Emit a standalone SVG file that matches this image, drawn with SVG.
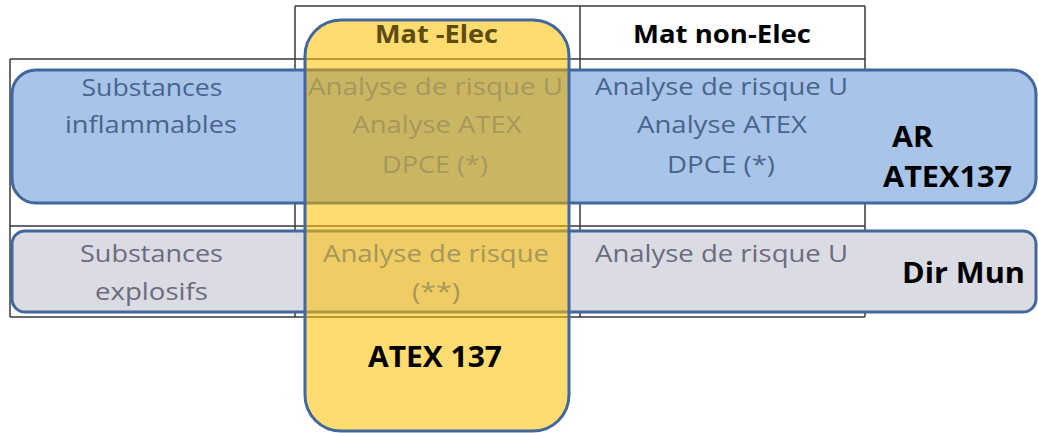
<svg xmlns="http://www.w3.org/2000/svg" width="1038" height="433" viewBox="0 0 1038 433">
<style>
.grid{stroke:#3a3a3a;stroke-width:1.5;fill:none}
.box{stroke:#41679c;stroke-width:3}
.t{font-family:"Open Sans","Liberation Sans",sans-serif;font-size:24px;text-anchor:middle}
.b{font-family:"Open Sans","Liberation Sans",sans-serif;font-weight:bold}
.blu{fill:#48658e}
.gry{fill:#6c6b7e}
.olv{fill:#a6975c}
</style>
<defs>
<clipPath id="yclip"><rect x="305" y="20" width="264" height="411" rx="36"/></clipPath>
</defs>
<rect width="1038" height="433" fill="#ffffff"/>
<g id="grid">
<path class="grid" d="M295,6H865M10,59H865M10,226H865M10,317H865M10,59V317M295,6V317M580,6V317M865,6V317"/>
</g>
<g id="row-inflammables">
<rect class="box" x="12" y="70" width="1024" height="133" rx="24" fill="#a8c4e8"/>
<text class="t blu" x="152" y="96" textLength="141" lengthAdjust="spacingAndGlyphs">Substances</text>
<text class="t blu" x="151" y="133" textLength="172" lengthAdjust="spacingAndGlyphs">inflammables</text>
<text class="t blu" x="721.5" y="95" textLength="253" lengthAdjust="spacingAndGlyphs">Analyse de risque U</text>
<text class="t blu" x="722" y="133" textLength="170" lengthAdjust="spacingAndGlyphs">Analyse ATEX</text>
<text class="t blu" x="721" y="173" textLength="108" lengthAdjust="spacingAndGlyphs">DPCE (*)</text>
<text class="b" x="892" y="147" font-size="28" fill="#000" textLength="41" lengthAdjust="spacingAndGlyphs">AR</text>
<text class="b" x="883" y="187" font-size="28" fill="#000" textLength="129" lengthAdjust="spacingAndGlyphs">ATEX137</text>
</g>
<g id="row-explosifs">
<rect class="box" x="12" y="231" width="1024" height="81" rx="13" fill="#dadbe3"/>
<text class="t gry" x="151.5" y="262" textLength="143" lengthAdjust="spacingAndGlyphs">Substances</text>
<text class="t gry" x="151.5" y="300" textLength="113" lengthAdjust="spacingAndGlyphs">explosifs</text>
<text class="t gry" x="721.5" y="262" textLength="253" lengthAdjust="spacingAndGlyphs">Analyse de risque U</text>
<text class="b" x="902" y="283" font-size="28" fill="#000" textLength="123" lengthAdjust="spacingAndGlyphs">Dir Mun</text>
</g>
<g id="header-non-elec">
<text class="b" x="722" y="43" font-size="25" fill="#000" text-anchor="middle" textLength="178" lengthAdjust="spacingAndGlyphs">Mat non-Elec</text>
</g>
<g id="col-mat-elec">
<rect x="305" y="20" width="264" height="411" rx="36" fill="#ffc000" fill-opacity="0.56"/>
<rect x="10" y="68.5" width="1028" height="136" fill="#4a4a40" fill-opacity="0.1" clip-path="url(#yclip)"/>
<rect class="box" x="305" y="20" width="264" height="411" rx="36" fill="none"/>
<text class="b" x="436.5" y="43" font-size="25" fill="#5e4c10" text-anchor="middle" textLength="123" lengthAdjust="spacingAndGlyphs">Mat -Elec</text>
<text class="t olv" x="435.5" y="95" textLength="255" lengthAdjust="spacingAndGlyphs">Analyse de risque U</text>
<text class="t olv" x="437" y="133" textLength="169" lengthAdjust="spacingAndGlyphs">Analyse ATEX</text>
<text class="t olv" x="435" y="173" textLength="106" lengthAdjust="spacingAndGlyphs">DPCE (*)</text>
<text class="t olv" x="436" y="262" textLength="226" lengthAdjust="spacingAndGlyphs">Analyse de risque</text>
<text class="t olv" x="436" y="300" textLength="48" lengthAdjust="spacingAndGlyphs">(**)</text>
<text class="b" x="435" y="367" font-size="28" fill="#000" text-anchor="middle" textLength="134" lengthAdjust="spacingAndGlyphs">ATEX 137</text>
</g>
</svg>
